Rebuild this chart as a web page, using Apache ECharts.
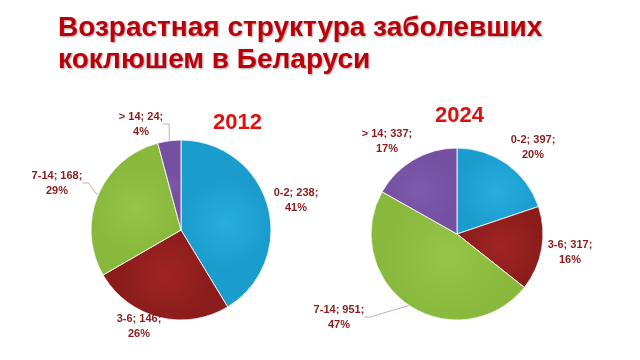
<!DOCTYPE html>
<html><head><meta charset="utf-8">
<script src="https://cdn.jsdelivr.net/npm/echarts@6/dist/echarts.min.js"></script>
<style>html,body{margin:0;padding:0;background:#fff}#c{width:640px;height:360px}</style>
</head><body><div id="c"></div>
<script>
const categories = ['0-2', '3-6', '7-14', '> 14'];
const values2012 = [238, 146, 168, 24];
const percentLabels2012 = [41, 26, 29, 4];
const values2024 = [397, 317, 951, 337];
const percentLabels2024 = [20, 16, 47, 17];
const years = ['2012', '2024'];
const colors = ['#1a9ccd', '#8c1c1c', '#88b83c', '#7350a0'];
const lightColors = ['#28ade0', '#a02424', '#96c648', '#8059ad'];

const chart = echarts.init(document.getElementById('c'));
function mk(vals, pcts, lines){
  return categories.map((c,i)=>({name:c, value:vals[i],
    labelLine:{show:lines[i]},
    itemStyle:{color:{type:'radial', x:0.5, y:0.5, r:0.5, colorStops:[{offset:0,color:lightColors[i]},{offset:1,color:colors[i]}]}}}));
}
const labelStyle = {
  color:'#8b1a1a', fontSize:11, fontWeight:'bold', fontFamily:'Liberation Sans, Arial, sans-serif',
  lineHeight:15, align:'center'
};
// label placement (Excel-like best fit)
const layout2012 = [[296,200],[139,326],[57,183],[141,124]];
const layout2024 = [[533,147],[570,252],[339,317],[387,141]];
function lay(tbl){ return p => ({x:tbl[p.dataIndex][0], y:tbl[p.dataIndex][1], align:'center', verticalAlign:'middle'}); }
function fmtFor(pcts){ return p => p.name + '; ' + p.value + ';\n' + pcts[p.dataIndex] + '%'; }
chart.setOption({
  backgroundColor:'#fff',
  title:[
    {text:'Возрастная структура заболевших\nкоклюшем в Беларуси', left:53, top:7,
     textStyle:{color:'#bb000a', fontSize:28, fontWeight:'bold', fontFamily:'Liberation Sans, Arial, sans-serif', lineHeight:32,
       textShadowColor:'rgba(0,0,0,0.35)', textShadowBlur:2, textShadowOffsetX:1, textShadowOffsetY:1}},
    {text:years[0], left:208, top:107, textStyle:{color:'#e01010', fontSize:22, fontWeight:'bold', fontFamily:'Liberation Sans, Arial, sans-serif'}},
    {text:years[1], left:430, top:100, textStyle:{color:'#e01010', fontSize:22, fontWeight:'bold', fontFamily:'Liberation Sans, Arial, sans-serif'}}
  ],
  series:[
    {type:'pie', center:[181,230], radius:90, startAngle:90, clockwise:true,
     data:mk(values2012, percentLabels2012, [false,false,true,true]),
     label:Object.assign({position:'outside', formatter:fmtFor(percentLabels2012)}, labelStyle),
     labelLine:{length:6, length2:6, lineStyle:{color:'#c89090', width:0.8}},
     labelLayout:lay(layout2012),
     itemStyle:{borderColor:'#fff', borderWidth:0.5}},
    {type:'pie', center:[457,234], radius:86, startAngle:90, clockwise:true,
     data:mk(values2024, percentLabels2024, [false,false,true,false]),
     label:Object.assign({position:'outside', formatter:fmtFor(percentLabels2024)}, labelStyle),
     labelLine:{length:6, length2:6, lineStyle:{color:'#c89090', width:0.8}},
     labelLayout:lay(layout2024),
     itemStyle:{borderColor:'#fff', borderWidth:0.5}}
  ]
});
</script></body></html>
